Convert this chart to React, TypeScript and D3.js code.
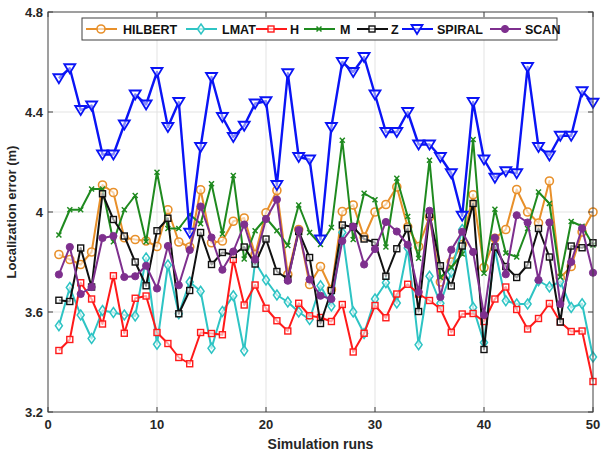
import React from "react";
import * as d3 from "d3";

const runs = d3.range(1, 51);

const hilbert = [3.83, 3.81, 3.79, 3.84, 4.108, 4.078, 3.897, 3.89, 3.884, 3.862, 4.009, 3.88, 3.86, 4.089, 3.877, 3.884, 3.963, 3.976, 3.83, 3.997, 4.086, 3.75, 3.93, 3.71, 3.782, 3.69, 4.002, 4.028, 3.9, 4.0, 4.03, 4.1, 3.94, 3.862, 3.98, 3.72, 3.8, 3.87, 4.069, 3.778, 3.895, 3.93, 4.09, 4.0, 3.956, 4.124, 3.737, 3.782, 3.92, 4.0];
const lmat = [3.545, 3.698, 3.588, 3.494, 3.606, 3.598, 3.588, 3.584, 3.816, 3.471, 3.788, 3.593, 3.72, 3.683, 3.455, 3.602, 3.665, 3.445, 3.8, 3.728, 3.668, 3.64, 3.6, 3.57, 3.705, 3.624, 3.918, 3.6, 3.514, 3.652, 3.717, 3.636, 3.856, 3.469, 3.743, 3.635, 3.76, 3.93, 3.618, 3.478, 3.85, 3.645, 3.632, 3.632, 3.725, 3.7, 3.722, 3.618, 3.633, 3.42];
const hCurve = [3.446, 3.49, 3.717, 3.652, 3.552, 3.745, 3.515, 3.655, 3.664, 3.518, 3.474, 3.418, 3.393, 3.518, 3.514, 3.509, 3.81, 3.628, 3.708, 3.615, 3.565, 3.524, 3.635, 3.585, 3.578, 3.562, 3.63, 3.44, 3.515, 3.626, 3.577, 3.672, 3.711, 3.672, 3.646, 3.613, 3.519, 3.592, 3.594, 3.562, 3.652, 3.7, 3.61, 3.532, 3.574, 3.634, 3.56, 3.522, 3.524, 3.322];
const mCurve = [3.908, 4.009, 4.009, 4.092, 4.092, 3.881, 4.009, 4.066, 3.881, 4.159, 3.934, 3.934, 3.99, 3.953, 4.113, 3.912, 4.146, 3.812, 3.925, 3.976, 3.925, 3.866, 4.028, 3.918, 3.87, 3.938, 4.287, 3.89, 4.075, 4.049, 3.86, 4.135, 3.982, 3.815, 4.207, 3.738, 3.779, 3.832, 4.29, 3.755, 4.011, 3.836, 3.82, 3.934, 4.08, 4.034, 3.74, 3.962, 3.943, 3.868];
const zCurve = [3.647, 3.642, 3.856, 3.7, 4.073, 3.97, 3.904, 3.8, 3.705, 3.925, 3.975, 3.593, 3.686, 3.918, 3.79, 3.838, 3.83, 3.86, 3.792, 3.892, 3.762, 3.732, 3.922, 3.818, 3.554, 3.686, 3.948, 3.94, 3.892, 3.878, 3.743, 3.853, 3.934, 3.602, 3.99, 3.785, 3.704, 3.864, 4.034, 3.45, 3.86, 3.782, 3.738, 3.788, 3.934, 3.82, 3.56, 3.864, 3.857, 3.877];
const spiral = [4.535, 4.575, 4.408, 4.426, 4.23, 4.23, 4.35, 4.47, 4.43, 4.56, 4.34, 4.44, 3.917, 4.26, 4.54, 4.38, 4.3, 4.345, 4.434, 4.443, 4.108, 4.555, 4.22, 4.21, 3.89, 4.34, 4.6, 4.56, 4.62, 4.47, 4.32, 4.32, 4.4, 4.27, 4.27, 4.22, 4.155, 3.985, 4.44, 4.21, 4.137, 4.163, 4.155, 4.58, 4.26, 4.226, 4.305, 4.305, 4.483, 4.437];
const scan = [3.75, 3.86, 3.672, 3.7, 3.896, 3.904, 3.74, 3.743, 3.785, 3.694, 3.864, 3.707, 3.848, 4.022, 3.898, 3.769, 3.842, 3.95, 3.81, 3.972, 4.05, 3.725, 3.928, 3.73, 3.665, 3.652, 3.884, 3.942, 3.79, 3.852, 3.96, 3.922, 3.869, 3.68, 4.005, 3.66, 3.849, 3.921, 3.84, 3.588, 3.897, 3.751, 3.987, 3.958, 3.728, 3.958, 3.632, 3.8, 3.935, 3.757];

const xTicks = [0, 10, 20, 30, 40, 50];
const yTicks = [3.2, 3.6, 4, 4.4, 4.8];

type Marker = "circle" | "diamond" | "square" | "cross" | "triDown" | "dot";
interface Series { name: string; values: number[]; color: string; marker: Marker; }

const series: Series[] = [
  { name: "HILBERT", values: hilbert, color: "#e8902a", marker: "circle" },
  { name: "LMAT", values: lmat, color: "#2ec4c4", marker: "diamond" },
  { name: "H", values: hCurve, color: "#ff1a1a", marker: "square" },
  { name: "M", values: mCurve, color: "#1f8a1f", marker: "cross" },
  { name: "Z", values: zCurve, color: "#111111", marker: "square" },
  { name: "SPIRAL", values: spiral, color: "#0a14f5", marker: "triDown" },
  { name: "SCAN", values: scan, color: "#7e2f8e", marker: "dot" },
];

const W = 603, H = 461;
const left = 48, right = 593, top = 12, bottom = 412;
const FONT = "'Liberation Sans', Arial, sans-serif";

function MarkerShape({ kind, x, y, color }: { kind: Marker; x: number; y: number; color: string }) {
  switch (kind) {
    case "circle":
      return <circle cx={x} cy={y} r={4} fill="white" fillOpacity={0.6} stroke={color} strokeWidth={1.6} />;
    case "diamond":
      return <path d={`M${x},${y - 5}L${x + 3.5},${y}L${x},${y + 5}L${x - 3.5},${y}Z`} fill="white" fillOpacity={0.6} stroke={color} strokeWidth={1.5} />;
    case "square":
      return <rect x={x - 3} y={y - 3} width={6} height={6} fill="white" fillOpacity={0.6} stroke={color} strokeWidth={1.4} />;
    case "cross":
      return <path d={`M${x - 2.5},${y - 2.5}L${x + 2.5},${y + 2.5}M${x - 2.5},${y + 2.5}L${x + 2.5},${y - 2.5}`} stroke={color} strokeWidth={1.5} />;
    case "triDown":
      return <path d={`M${x - 5.5},${y - 4}L${x + 5.5},${y - 4}L${x},${y + 5}Z`} fill="white" fillOpacity={0.5} stroke={color} strokeWidth={1.8} />;
    case "dot":
      return <circle cx={x} cy={y} r={3.6} fill={color} stroke={color} strokeWidth={1} />;
  }
}

export default function App() {
  const x = d3.scaleLinear().domain([0, 50]).range([left, right]);
  const y = d3.scaleLinear().domain([3.2, 4.8]).range([bottom, top]);
  const line = d3.line<[number, number]>().x((d) => x(d[0])).y((d) => y(d[1]));

  // legend layout
  const legX0 = 82, legX1 = 557, legY0 = 18, legY1 = 40;
  const legendItems = [
    { lx: 86, tx: 123 },
    { lx: 186, tx: 222 },
    { lx: 256, tx: 290 },
    { lx: 304, tx: 340 },
    { lx: 357, tx: 391 },
    { lx: 402, tx: 437 },
    { lx: 490, tx: 525 },
  ];
  const legY = (legY0 + legY1) / 2;

  return (
    <svg width={W} height={H} style={{ position: "absolute", left: 0, top: 0, background: "white" }} fontFamily={FONT}>
      <rect x={0} y={0} width={W} height={H} fill="white" />
      {/* grid */}
      {xTicks.slice(1, -1).map((t) => (
        <line key={"gx" + t} x1={x(t)} x2={x(t)} y1={top} y2={bottom} stroke="#e3e3e3" strokeWidth={1} />
      ))}
      {yTicks.slice(1, -1).map((t) => (
        <line key={"gy" + t} x1={left} x2={right} y1={y(t)} y2={y(t)} stroke="#e3e3e3" strokeWidth={1} />
      ))}
      {/* series */}
      {series.map((s) => {
        const pts = runs.map((r, i) => [r, s.values[i]] as [number, number]);
        return (
          <g key={s.name}>
            <path d={line(pts) ?? ""} fill="none" stroke={s.color} strokeWidth={s.name === "SPIRAL" ? 2.4 : 2} strokeLinejoin="round" />
            {pts.map((p, i) => (
              <MarkerShape key={i} kind={s.marker} x={x(p[0])} y={y(p[1])} color={s.color} />
            ))}
          </g>
        );
      })}
      {/* axes box */}
      <rect x={left} y={top} width={right - left} height={bottom - top} fill="none" stroke="#404040" strokeWidth={1} />
      {xTicks.map((t) => (
        <g key={"tx" + t}>
          <line x1={x(t)} x2={x(t)} y1={bottom} y2={bottom - 5} stroke="#404040" />
          <line x1={x(t)} x2={x(t)} y1={top} y2={top + 5} stroke="#404040" />
          <text x={x(t)} y={bottom + 17} textAnchor="middle" fontSize={13} fontWeight="bold" fill="#262626">{t}</text>
        </g>
      ))}
      {yTicks.map((t) => (
        <g key={"ty" + t}>
          <line x1={left} x2={left + 5} y1={y(t)} y2={y(t)} stroke="#404040" />
          <line x1={right} x2={right - 5} y1={y(t)} y2={y(t)} stroke="#404040" />
          <text x={left - 5} y={y(t) + 5} textAnchor="end" fontSize={13} fontWeight="bold" fill="#262626">{t}</text>
        </g>
      ))}
      <text x={(left + right) / 2} y={449} textAnchor="middle" fontSize={14} fontWeight="bold" fill="#262626">Simulation runs</text>
      <text transform={`translate(16,${(top + bottom) / 2}) rotate(-90)`} textAnchor="middle" fontSize={13} fontWeight="bold" fill="#262626">Localization error (m)</text>
      {/* legend */}
      <rect x={legX0} y={legY0} width={legX1 - legX0} height={legY1 - legY0} fill="white" stroke="#404040" strokeWidth={1} />
      {series.map((s, i) => {
        const it = legendItems[i];
        const mx = it.lx + 15;
        return (
          <g key={"lg" + s.name}>
            <line x1={it.lx} x2={it.lx + 31} y1={legY} y2={legY} stroke={s.color} strokeWidth={2} />
            <MarkerShape kind={s.marker} x={mx} y={legY} color={s.color} />
            <text x={it.tx} y={legY + 4.5} fontSize={12.5} fontWeight="bold" fill="#111">{s.name}</text>
          </g>
        );
      })}
    </svg>
  );
}
